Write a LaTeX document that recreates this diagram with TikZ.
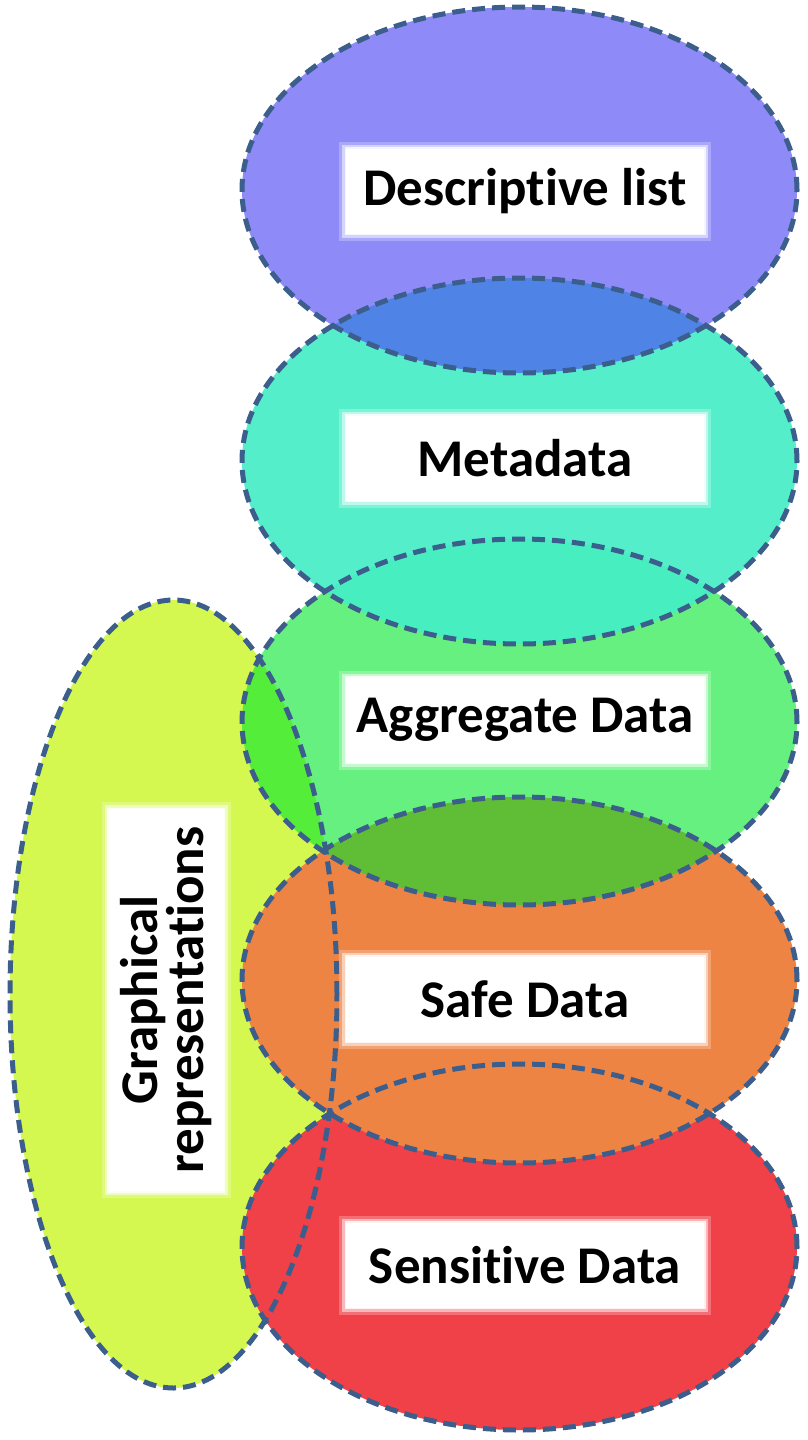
\documentclass[tikz,border=0pt]{standalone}
\usepackage{fontspec}
\setmainfont{Carlito}[Ligatures=NoCommon]
\usetikzlibrary{positioning}
\definecolor{rimblue}{RGB}{60,94,140}
\definecolor{listviolet}{RGB}{78,72,244}
\definecolor{metateal}{RGB}{69,238,198}
\definecolor{aggrgreen}{RGB}{0,230,43}
\definecolor{safeorange}{RGB}{238,132,68}
\definecolor{sensred}{RGB}{240,64,72}
\definecolor{graphlime}{RGB}{212,248,80}

\begin{document}
\begin{tikzpicture}[
x=1pt, y=-1pt,
rim/.style={draw=rimblue, line width=5pt, dash pattern=on 13pt off 7pt},
labelbox/.style={fill=white, inner sep=0pt,
  minimum width=358pt, minimum height=85pt,
  font=\fontsize{53}{46}\selectfont\bfseries,
  preaction={draw=white, draw opacity=.25, line width=14pt},
  preaction={draw=white, draw opacity=.5, line width=8pt},
  preaction={draw=white, draw opacity=.8, line width=3pt}}]
\useasboundingbox (0,0) rectangle (807,1440);
% fills, lowest layer first
\fill[graphlime] (173.5,994) ellipse (163.5pt and 394pt);
\foreach \cy/\col/\op in {1247/sensred/1, 980/safeorange/1, 722/aggrgreen/.6, 461/metateal/.92, 190/listviolet/.64}
  \fill[\col, fill opacity=\op] (519.5,\cy) ellipse (277.5pt and 183pt);
% dashed rims over all fills
\draw[rim] (173.5,994) ellipse (163.5pt and 394pt);
\foreach \cy in {1247,980,722,461,190}
  \draw[rim] (519.5,\cy) ellipse (277.5pt and 183pt);
% labels
\node[labelbox] (desc) at (525,191) {Descriptive list};
\node[labelbox] (meta) at (525,458) {Metadata};
\node[labelbox] (aggr) at (525,720) {Aggregate Data};
\node[labelbox] (safe) at (525,999) {Safe Data};
\node[labelbox] (sens) at (525,1265) {Sensitive Data};
\node[labelbox, rotate=90, align=center,
  minimum width=382pt, minimum height=115pt] (graph) at (166,1000) {Graphical\\representations};
\end{tikzpicture}
\end{document}
